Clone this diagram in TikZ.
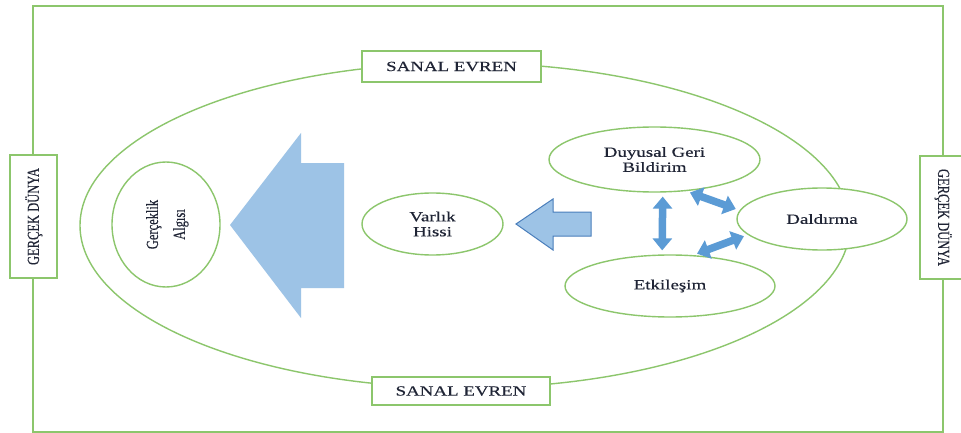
\documentclass[tikz,border=0pt]{standalone}
\usepackage{fontspec,graphicx}
\setmainfont{Liberation Serif}[FakeStretch=1.35,FakeBold=0.4]
\newfontfamily\plainserif{Liberation Serif}[FakeBold=0.4]
\usetikzlibrary{shapes.geometric,arrows.meta}
\definecolor{Leaf}{HTML}{8CC66C}
\definecolor{Sky}{HTML}{9DC3E6}
\definecolor{Ocean}{HTML}{5B9BD5}
\definecolor{Deep}{HTML}{4A7EBB}
\definecolor{Ink}{HTML}{1F2435}
\newcommand{\tallword}[1]{\scalebox{1}[1.35]{\plainserif\fontsize{12.5}{20}\selectfont\begin{tabular}{@{}c@{}}#1\end{tabular}}}

\begin{document}
\begin{tikzpicture}[x=1pt,y=-1pt,>={Triangle[width=19pt,length=12pt]},
    font=\fontsize{14}{15}\selectfont,text=Ink,
    frame/.style={draw=Leaf,line width=2pt,fill=white,inner sep=0pt},
    oval/.style={draw=Leaf,line width=1.4pt,fill=white,ellipse,inner sep=0pt,align=center},
    link/.style={<->,Ocean,line width=7.5pt,shorten <=4pt,shorten >=4pt}]
    \useasboundingbox (0,0) rectangle (961,433);
    \node[frame,minimum width=910pt,minimum height=426pt] (world) at (488,219) {};
    \node[frame,rotate=90,minimum width=123pt,minimum height=47pt] (dunyaleft) at (33.5,216.5) {\tallword{GERÇEK DÜNYA}};
    \node[frame,rotate=-90,minimum width=123pt,minimum height=47pt] (dunyaright) at (943.5,217.5) {\tallword{GERÇEK DÜNYA}};
    \node[oval,minimum width=770pt,minimum height=325pt] (evren) at (465,225.5) {};
    \node[frame,minimum width=179pt,minimum height=31pt] (evrentop) at (451.5,66.5) {SANAL EVREN};
    \node[frame,minimum width=178pt,minimum height=28pt] (evrenbottom) at (461,391) {SANAL EVREN};
    \node[oval,rotate=90,minimum width=125pt,minimum height=108pt] (algi) at (166,224.5) {\tallword{Gerçeklik\\Algısı}};
    \node[oval,minimum width=141pt,minimum height=62pt] (varlik) at (432.5,224) {Varlık\\Hissi};
    \node[oval,minimum width=211pt,minimum height=65pt] (duyusal) at (654.5,159.5) {Duyusal Geri\\Bildirim};
    \node[oval,minimum width=170pt,minimum height=62pt] (daldirma) at (822,219) {Daldırma};
    \node[oval,minimum width=210pt,minimum height=62pt] (etkilesim) at (670,286) {Etkileşim};
    \fill[Sky] (230,225) -- (301,133) -- (301,163) -- (344,163) -- (344,288) -- (301,288) -- (301,318) -- cycle;
    \filldraw[fill=Sky,draw=Deep,line width=1pt] (516,224) -- (553,199) -- (553,212) -- (591,212) -- (591,236) -- (553,236) -- (553,250) -- cycle;
    \draw[link] (duyusal.-76) -- (etkilesim.104);
    \draw[link] (duyusal.-45) -- (daldirma.174);
    \draw[link] (etkilesim.53) -- (daldirma.192);
  \end{tikzpicture}
\end{document}
